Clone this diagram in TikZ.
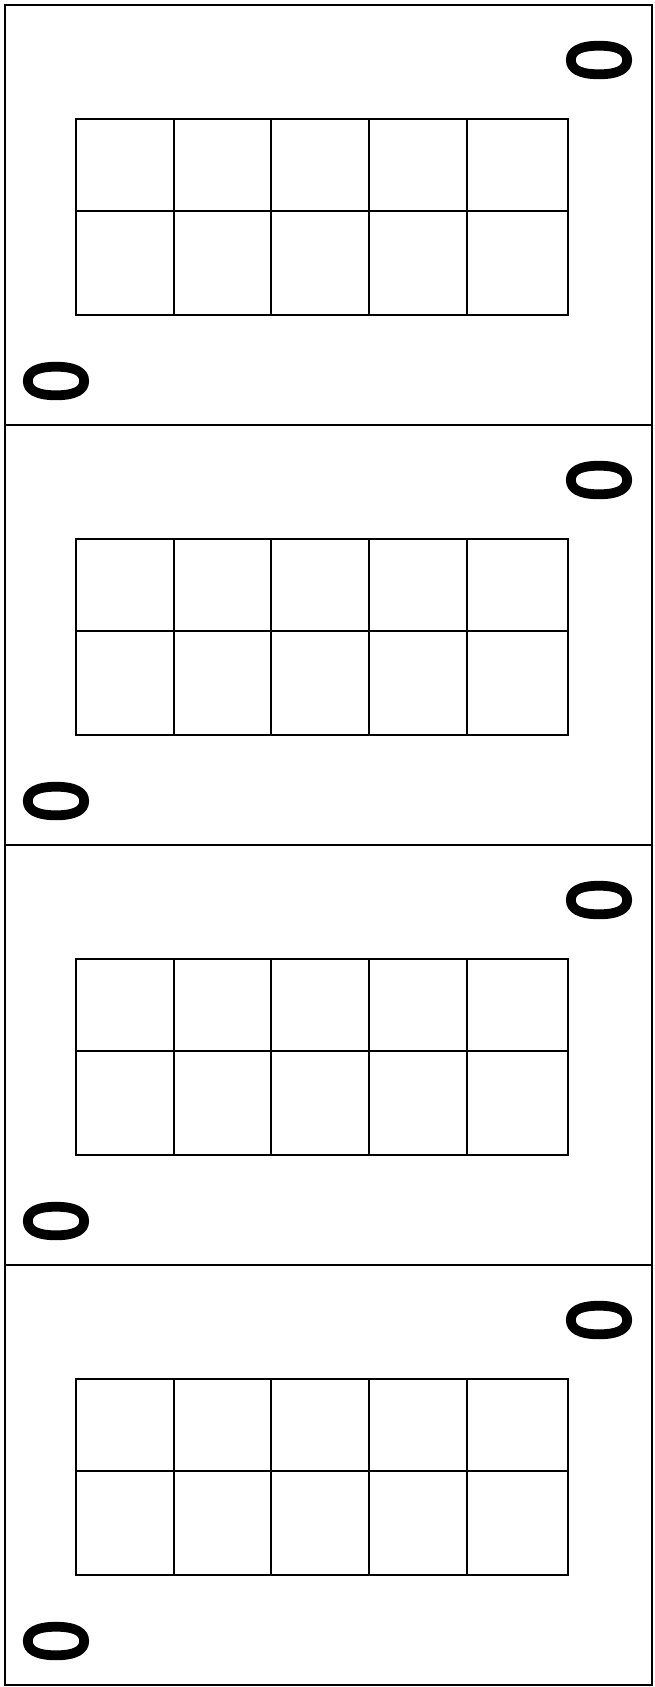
\documentclass[tikz,border=0pt]{standalone}
\usepackage{fontspec}
\newfontfamily\zerofont[FakeBold=4]{DejaVu Sans}
\tikzset{
  cardframe/.style={draw=black, line width=2.6pt},
  gridline/.style={draw=black, line width=2.6pt},
  zerolabel/.style={font=\zerofont\fontsize{83}{83}\selectfont, rotate=90, inner sep=0pt, text=black}
}
\newcommand{\zeroglyph}{\scalebox{0.85}[1]{0}}
\begin{document}
\begin{tikzpicture}[x=1pt,y=-1pt]
\useasboundingbox[fill=white] (0,0) rectangle (654,1687);
\foreach \k in {0,1,2,3}{
  \pgfmathsetmacro{\t}{5+420*\k}
  % card outline
  \draw[cardframe] (5,\t) rectangle (652,\t+420);
  % ten frame
  \draw[gridline] (76,\t+114) rectangle (568,\t+310);
  \draw[gridline] (76,\t+206) -- (568,\t+206);
  \foreach \c in {174,271,369,467}{
    \draw[gridline] (\c,\t+114) -- (\c,\t+310);
  }
  % zero labels
  \node[zerolabel] (zt\k) at (599,\t+55) {\zeroglyph};
  \node[zerolabel] (zb\k) at (56,\t+376) {\zeroglyph};
}
\end{tikzpicture}
\end{document}
